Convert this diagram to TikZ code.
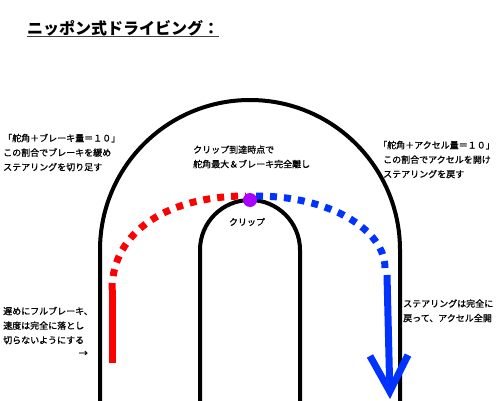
\documentclass[tikz,border=0pt]{standalone}
\usepackage{fontspec}
\newfontfamily\jpfont{Noto Sans CJK JP}
\newfontfamily\jpnote{Noto Sans CJK JP}[FakeBold=1]
\usetikzlibrary{positioning}
\usetikzlibrary{arrows.meta}
\definecolor{brakeRed}{RGB}{255,0,0}
\definecolor{throttleBlue}{RGB}{0,51,255}
\definecolor{clipPurple}{RGB}{170,0,255}
\tikzstyle{track} = [draw, line width=4pt]
\tikzstyle{note} = [inner sep=0pt, align=left, font=\jpnote\fontsize{9}{14.5}\selectfont]
\tikzstyle{heading} = [inner sep=0pt, font=\jpfont\bfseries\fontsize{16}{16}\selectfont]
\tikzstyle{brakeLine} = [draw=brakeRed, line width=7pt]
\tikzstyle{brakeDots} = [brakeLine, dash pattern=on 7pt off 7pt]
\tikzstyle{throttleLine} = [draw=throttleBlue, line width=7pt]
\tikzstyle{throttleDots} = [throttleLine, dash pattern=on 7pt off 7pt]
\tikzstyle{apex} = [circle, fill=clipPurple, minimum size=14pt, inner sep=0pt]

\begin{document}
\begin{tikzpicture}[x=1pt, y=1pt]
	\useasboundingbox (0,0) rectangle (500,400);
	\draw[track] (100,-5) -- (100,150) arc[start angle=180, end angle=0, radius=150] -- (400,-5);
	\draw[track] (200,-5) -- (200,150) arc[start angle=180, end angle=0, radius=50] -- (300,-5);

	\coordinate (brakeStart) at (112,37);
	\coordinate (turnIn) at (112,110);
	\coordinate (clipEntry) at (246,204);
	\coordinate (clipExit) at (256,204);
	\coordinate (unwind) at (385,132);
	\coordinate (straightStart) at (387,125);
	\coordinate (exitEnd) at (390,1);

	\path[brakeLine] (brakeStart) -- (turnIn);
	\path[brakeDots] (turnIn) .. controls (112,170) and (170,204) .. (clipEntry);
	\path[throttleDots] (clipExit) .. controls (330,204) and (385,170) .. (unwind);
	\path[throttleLine, -{Straight Barb[length=36pt, width=38pt]}] (straightStart) -- (exitEnd);
	\node[apex] (clipPoint) at (250,200) {};

	\node[heading, anchor=base west] (title) at (27,366) {ニッポン式ドライビング：};
	\draw[line width=1.5pt, black!75] ([yshift=-2.5pt]title.base west) -- ([yshift=-2.5pt]title.base east);

	\node[note, anchor=base west] (steerNote) at (3,229.5) {「舵角＋ブレーキ量＝１０」\\この割合でブレーキを緩め\\ステアリングを切り足す};
	\node[note, anchor=base west] (apexNote) at (193,232.5) {クリップ到達時点で\\舵角最大＆ブレーキ完全離し};
	\node[note, anchor=base west] (throttleNote) at (378,222.5) {「舵角＋アクセル量＝１０」\\\hspace*{5pt}この割合でアクセルを開け\\\hspace*{5pt}ステアリングを戻す};
	\node[note] (clipLabel) at (247,178) {クリップ};
	\node[note, anchor=base west] (brakeNote) at (3,56.5) {遅めにフルブレーキ、\\速度は完全に落とし\\切らないようにする};
	\node[note, anchor=base east] (brakeArrow) at (88,43.5) {→};
	\node[note, anchor=base west] (exitNote) at (403,78.5) {ステアリングは完全に\\戻って、アクセル全開};
\end{tikzpicture}
\end{document}
